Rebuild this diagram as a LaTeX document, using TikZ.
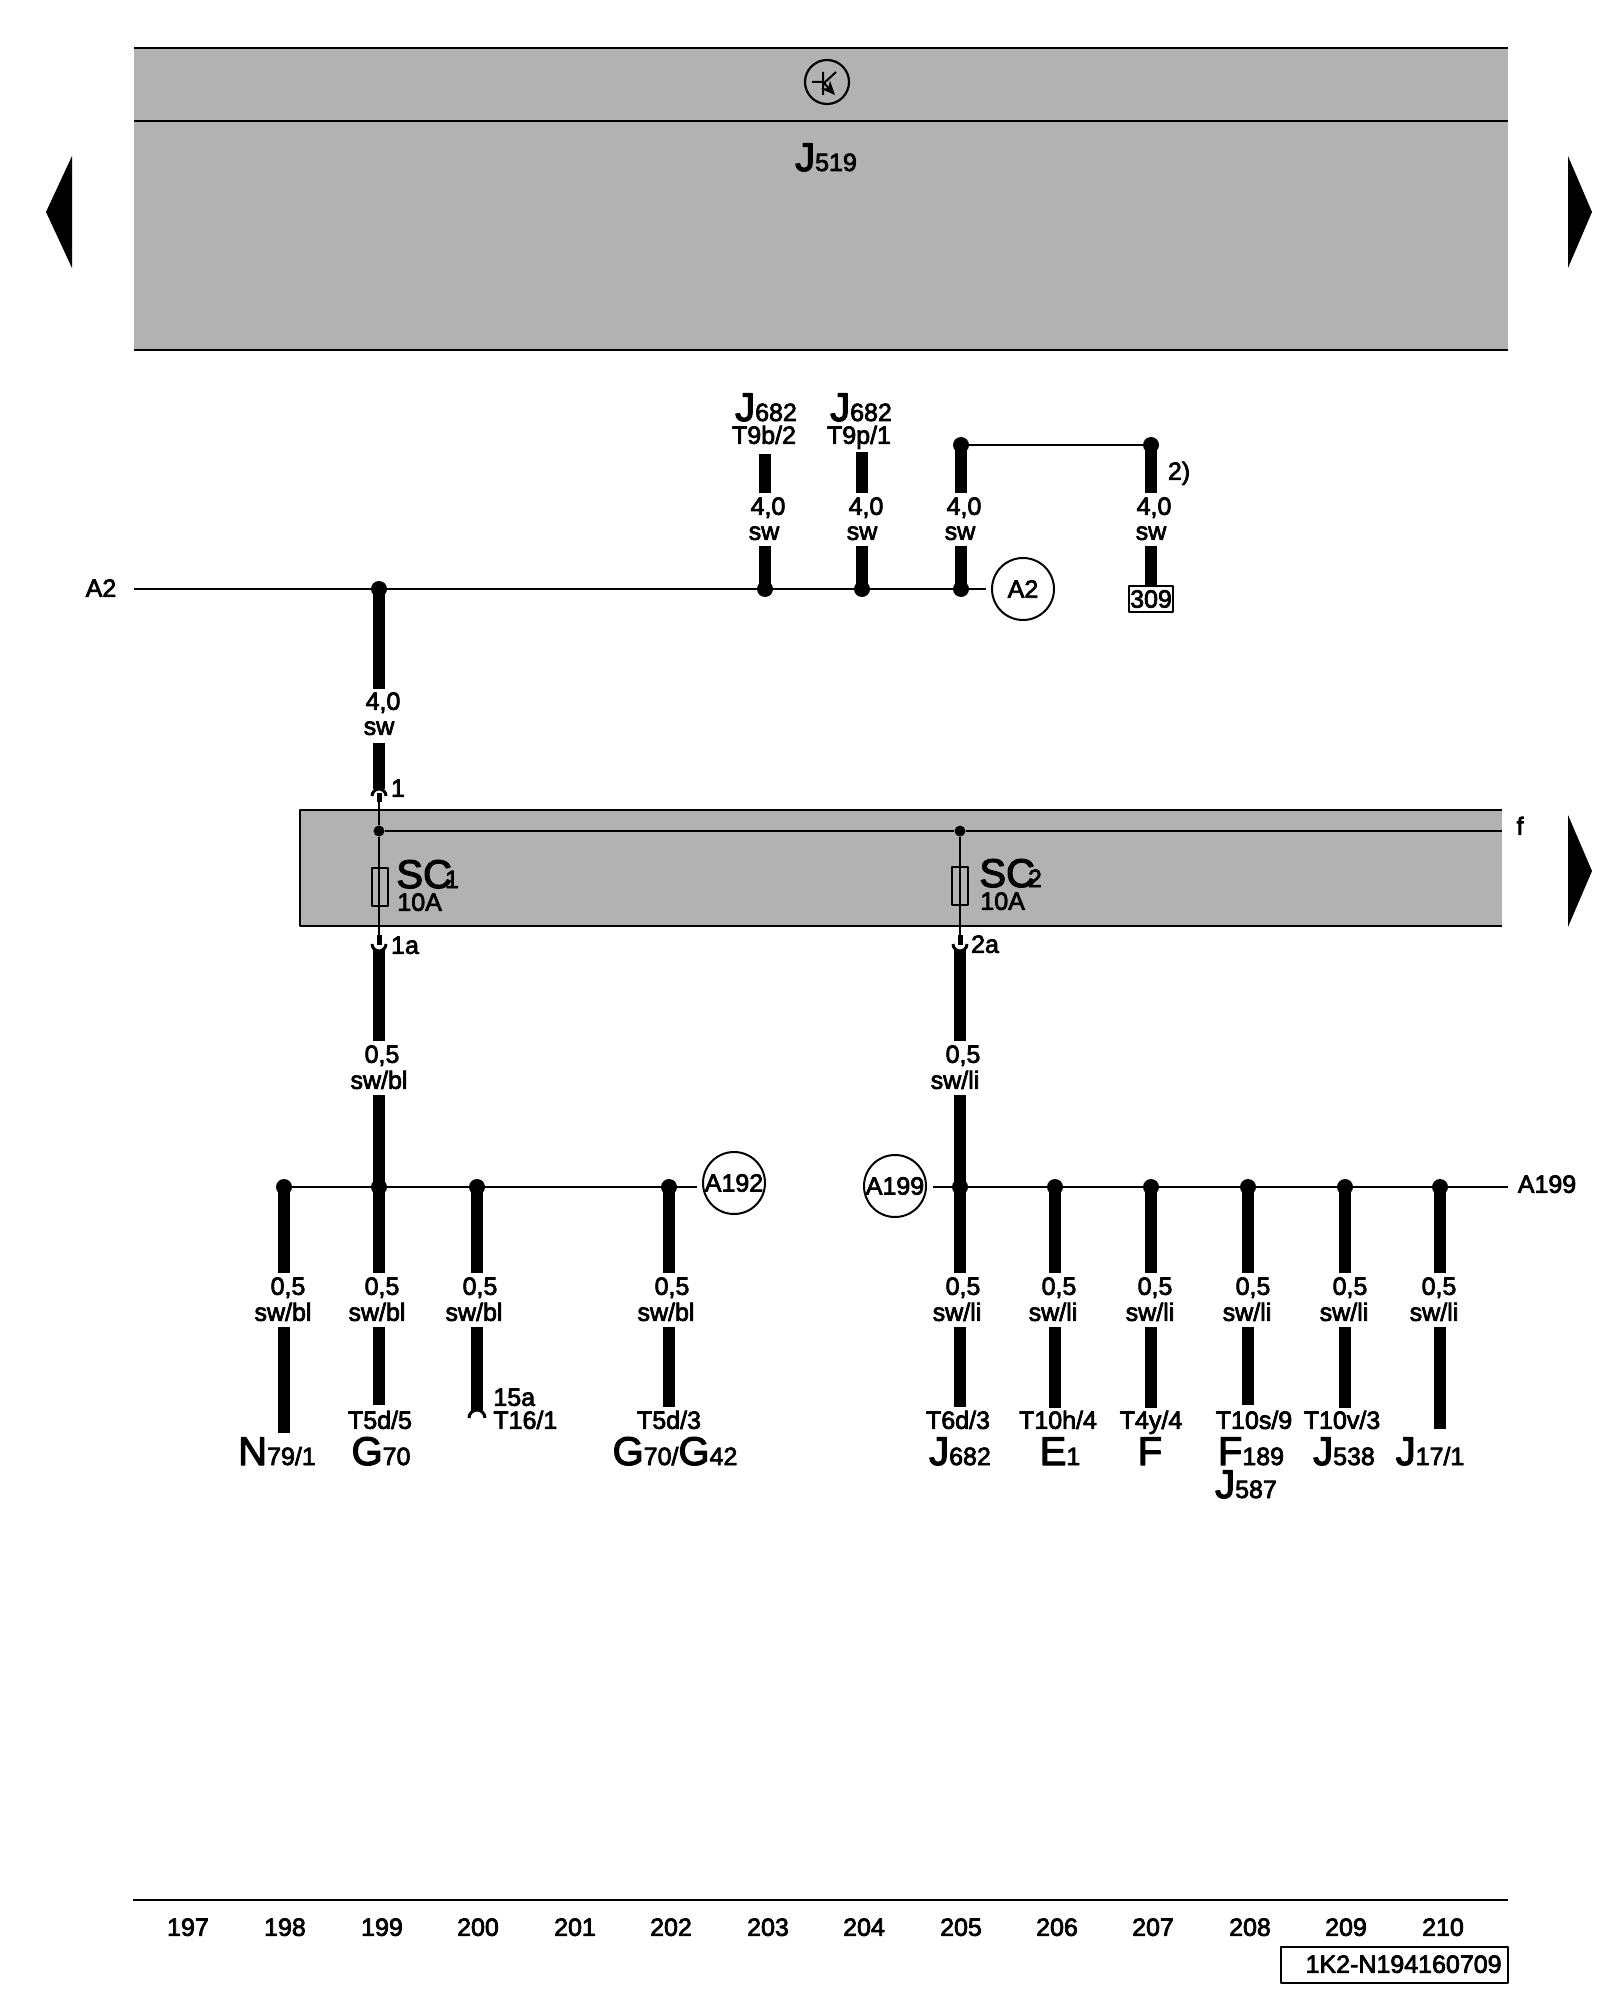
\documentclass[tikz,border=0pt]{standalone}
\usepackage{fontspec}
\setmainfont[FakeBold=3]{Liberation Sans}
\usetikzlibrary{arrows.meta}
\definecolor{panel}{RGB}{178,178,178}
\newcommand{\partlab}[2]{{\fontsize{20}{20}\selectfont #1}#2}
\tikzset{
  txt/.style={inner sep=0pt,yshift=.6pt,font=\fontsize{12.5}{12.5}\selectfont,text height=9pt,text depth=0pt},
  part/.style={inner sep=0pt,font=\fontsize{12.5}{12.5}\selectfont,anchor=base},
  dot/.style={circle,fill=black,inner sep=0pt,minimum size=8pt},
  smalldot/.style={circle,fill=black,inner sep=0pt,minimum size=5.5pt},
  ring/.style={circle,draw,line width=1pt,inner sep=0pt,minimum size=31pt,font=\fontsize{12.5}{12.5}\selectfont},
  fuse/.style={draw,line width=.9pt,inner sep=0pt,minimum width=7.7pt,minimum height=19pt},
  wire/.style={line width=6pt},
  thinwire/.style={line width=1pt},
}
\begin{document}
\begin{tikzpicture}[x=0.5pt,y=-0.5pt,line join=round]
  \useasboundingbox(0,0)rectangle(1600,2000);
  % panels
  \fill[panel](134,48)rectangle(1508,350);
  \draw[thinwire](134,48)--(1508,48)(134,121)--(1508,121)(134,350)--(1508,350);
  \fill[panel](300,810)rectangle(1502,926);
  \draw[thinwire](1502,810)--(300,810)--(300,926)--(1502,926);
  % page arrows
  \fill(72,156)--(46,212)--(72,268)--cycle;
  \fill(1568,156)--(1592,212)--(1568,268)--cycle;
  \fill(1568,815)--(1592,871)--(1568,927)--cycle;
  % earth symbol
  \node[circle,draw,line width=1.1pt,inner sep=0pt,minimum size=22pt](sym)at(827,82){};
  \draw[line width=1pt](812,82)--(823,82)(823,72)--(823,95)(823,84)--(836,72);
  \draw[line width=1pt,-{Stealth[length=7pt,width=6pt]}](823,82)--(835,95);
  \node[part](j519)at(826,171){\partlab{J}{519}};
  % bus A2
  \node[txt](a2txt)at(101,589){A2};
  \coordinate(a2start)at(134,589);
  \coordinate(a2end)at(986,589);
  \node[ring](a2ring)at(1023,589){A2};
  \foreach \n/\x in{a/379,b/765,c/862,d/961}
    \node[dot](j\n)at(\x,589){};
  \draw[thinwire](a2start)--(ja)--(jb)--(jc)--(jd)--(a2end);
  % wires above bus A2
  \foreach \n/\x/\t/\a/\c in{b/765/454/768/764,c/862/452/866/862,d/961/446/964/960,e/1151/446/1154/1151}{
    \coordinate(t\n)at(\x,\t);
    \coordinate(u\n)at(\x,493);
    \coordinate(v\n)at(\x,546);
    \node[txt](s\n)at(\a,507){4,0};
    \node[txt](k\n)at(\c,532){sw};
    \draw[wire](t\n)--(u\n);
  }
  \node[dot](jt)at(961,445){};
  \node[dot](je)at(1151,445){};
  \draw[thinwire](jt)--(je);
  \node[draw,line width=.8pt,fill=white,inner sep=0pt,minimum width=22pt,minimum height=13pt,font=\fontsize{12.5}{12.5}\selectfont](b309)at(1151,599){309};
  \draw[wire](vb)--(jb.center);
  \draw[wire](vc)--(jc.center);
  \draw[wire](vd)--(jd.center);
  \draw[wire](ve)--(b309);
  \node[txt](n2)at(1179,472){2)};
  \node[part](j682a)at(766,421){\partlab{J}{682}};
  \node[txt](t9b)at(764,436){T9b/2};
  \node[part](j682b)at(861,421){\partlab{J}{682}};
  \node[txt](t9p)at(859,436){T9p/1};
  % feed to the fuse panel
  \coordinate(fa)at(379,689);
  \coordinate(fb)at(379,743);
  \coordinate(fc)at(379,789);
  \node[txt](s1)at(383,702){4,0};
  \node[txt](k1)at(379,727){sw};
  \draw[wire](ja.center)--(fa);
  \draw[wire](fb)--(fc);
  \node[txt](pin1)at(398,789){1};
  % fuse panel
  \node[smalldot](jf)at(379,831){};
  \node[smalldot](jg)at(960,831){};
  \coordinate(fend)at(1502,831);
  \draw[thinwire](jf)--(jg)--(fend);
  \node[fuse](fuse1)at(380,887){};
  \node[fuse](fuse2)at(960,886){};
  \node[part,anchor=base west](sc1)at(396,888){\partlab{SC}{\kern-3.5pt 1}};
  \node[part,anchor=base west](sc2)at(979,887){\partlab{SC}{\kern-3.5pt 2}};
  \node[txt,anchor=west](a10)at(397,903){10A};
  \node[txt,anchor=west](b10)at(980,902){10A};
  \node[txt](fname)at(1520,827){f};
  % pins
  \draw[line width=1.5pt](372,796)arc[start angle=180,end angle=0,radius=3.5pt];
  \draw[line width=2.5pt](379,793)--(379,802);
  \foreach \n/\x/\p in{a/379/1a,b/960/2a}{
    \coordinate(pa\n)at(\x,802);
    \coordinate(pb\n)at(\x,945);
    \draw[line width=1.5pt](\x-7,944)arc[start angle=180,end angle=360,radius=3.5pt];
    \draw[line width=2.5pt](\x,935)--(pb\n);
  }
  \draw[line width=1pt](paa)--(jf)--(pba);
  \draw[line width=1pt](jg)--(pbb);
  \node[txt](pin1a)at(405,946){1a};
  \node[txt](pin2a)at(985,945){2a};
  % feeds to the lower buses
  \foreach \n/\x/\c/\t in{l/379/379/sw\slash bl,r/960/955/sw\slash li}{
    \coordinate(ga\n)at(\x,950);
    \coordinate(gb\n)at(\x,1041);
    \coordinate(gc\n)at(\x,1095);
    \node[txt](gs\n)at(\x+3,1055){0,5};
    \node[txt](gk\n)at(\c,1081){\t};
    \draw[wire](ga\n)--(gb\n);
  }
  % lower buses
  \foreach \n/\x/\a/\c/\t/\e in{a/284/288/283/bl/1433,b/379/382/377/bl/1405,c/477/480/474/bl/1411,d/669/672/666/bl/1407,
    e/960/963/957/li/1407,f/1055/1059/1053/li/1408,g/1151/1155/1150/li/1408,h/1248/1253/1247/li/1405,i/1345/1350/1344/li/1408,k/1440/1439/1434/li/1429}{
    \node[dot](m\n)at(\x,1187){};
    \coordinate(ua\n)at(\x,1273);
    \coordinate(ub\n)at(\x,1327);
    \coordinate(uc\n)at(\x,\e);
    \node[txt](us\n)at(\a,1287){0,5};
    \node[txt](uk\n)at(\c,1313){sw/\t};
    \draw[wire](m\n.center)--(ua\n);
    \draw[wire](ub\n)--(uc\n);
  }
  \draw[wire](gcl)--(mb.center);
  \draw[wire](gcr)--(me.center);
  \coordinate(lend)at(697,1187);
  \coordinate(rstart)at(933,1187);
  \coordinate(rend)at(1508,1187);
  \draw[thinwire](ma)--(mb)--(mc)--(md)--(lend);
  \draw[thinwire](rstart)--(me)--(mf)--(mg)--(mh)--(mi)--(mk)--(rend);
  \node[ring](a192)at(734,1183){A192};
  \node[ring](a199)at(895,1186){A199};
  \node[txt](a199txt)at(1547,1185){A199};
  \draw[line width=1.5pt](469,1418)arc[start angle=180,end angle=0,radius=4pt];
  \node[txt,anchor=west](p15a)at(493,1398){15a};
  \node[txt,anchor=west](t16)at(493,1421){T16/1};
  % pin and part names
  \foreach \n/\x/\m in{a/380/T5d\slash 5,b/669/T5d\slash 3,c/958/T6d\slash 3,d/1058/T10h\slash 4,e/1151/T4y\slash 4,f/1254/T10s\slash 9,g/1342/T10v\slash 3}
    \node[txt](pt\n)at(\x,1421){\m};
  \node[part](n79)at(277,1465){\partlab{N}{79/1}};
  \node[part](g70)at(381,1465){\partlab{G}{70}};
  \node[part](g7042)at(675,1465){\partlab{G}{70/}\partlab{G}{42}};
  \node[part](j682)at(960,1465){\partlab{J}{682}};
  \node[part](e1)at(1060,1465){\partlab{E}{1}};
  \node[part](f)at(1150,1465){\partlab{F}{}};
  \node[part](f189)at(1251,1465){\partlab{F}{189}};
  \node[part](j587)at(1246,1498){\partlab{J}{587}};
  \node[part](j538)at(1344,1465){\partlab{J}{538}};
  \node[part](j171)at(1430,1465){\partlab{J}{17/1}};
  % footer
  \draw[thinwire](133,1900)--(1508,1900);
  \foreach \x/\m in{188/197,285/198,382/199,478/200,575/201,671/202,768/203,864/204,961/205,1057/206,1153/207,1250/208,1346/209,1443/210}
    \node[txt](col\m)at(\x,1928){\m};
  \node[draw,thinwire,inner sep=0pt,minimum width=113.5pt,minimum height=18pt](stamp)at(1394.5,1965){};
  \node[txt,anchor=east](stamptxt)at(1502,1965){1K2-N194160709};
\end{tikzpicture}
\end{document}
